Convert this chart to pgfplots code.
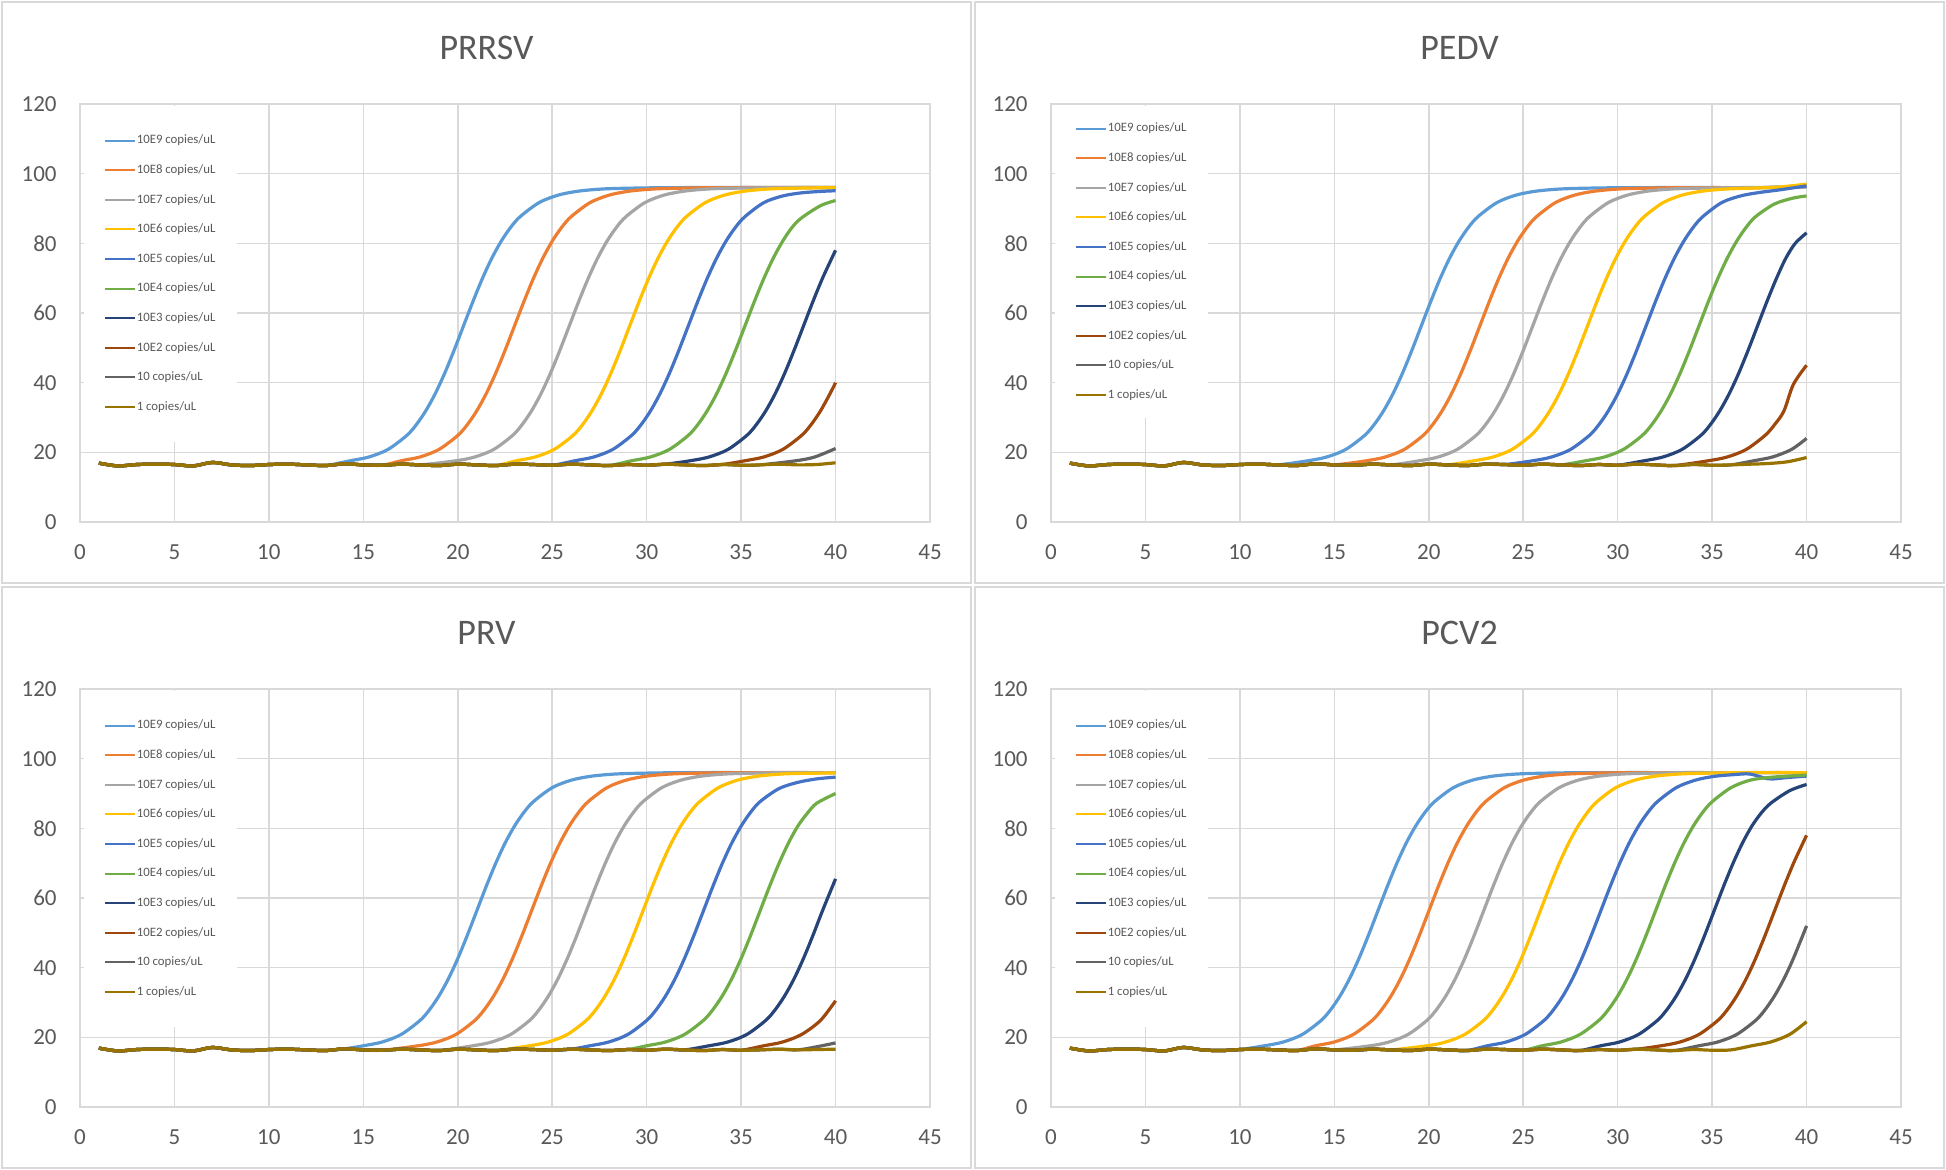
\documentclass[border=0pt]{standalone}
\usepackage{fontspec}
\setmainfont{Carlito}
\usepackage{pgfplots}
\pgfplotsset{compat=1.18}

\definecolor{c1}{HTML}{5B9BD5}
\definecolor{c2}{HTML}{ED7D31}
\definecolor{c3}{HTML}{A5A5A5}
\definecolor{c4}{HTML}{FFC000}
\definecolor{c5}{HTML}{4472C4}
\definecolor{c6}{HTML}{70AD47}
\definecolor{c7}{HTML}{264478}
\definecolor{c8}{HTML}{9E480E}
\definecolor{c9}{HTML}{636363}
\definecolor{c10}{HTML}{997300}
\definecolor{gridc}{HTML}{D9D9D9}
\definecolor{labc}{HTML}{595959}

\pgfplotscreateplotcyclelist{excel}{color=c1\\color=c2\\color=c3\\color=c4\\color=c5\\color=c6\\color=c7\\color=c8\\color=c9\\color=c10\\}

\pgfplotsset{
  panel/.style={
    scale only axis, width=425pt, height=209pt,
    xmin=0, xmax=45, ymin=0, ymax=120,
    xtick={0,5,...,45}, ytick={0,20,...,120},
    xmajorgrids, ymajorgrids,
    major grid style={draw=gridc, line width=0.8pt},
    axis line style={draw=gridc, line width=0.8pt},
    major tick length=0pt,
    /pgf/number format/assume math mode=true,
    tick label style={font=\fontsize{11.5}{13}\selectfont, text=labc},
    xticklabel style={anchor=north, inner sep=0pt, yshift=-11pt},
    yticklabel style={anchor=east, inner sep=0pt, xshift=-11.5pt},
    cycle list name=excel,
    every axis plot/.append style={line width=1.6pt, smooth},
    legend cell align=left,
    legend image code/.code={\draw[##1, line width=1pt] (0pt,0pt) -- (15pt,0pt);},
    legend style={at={(0.004,0.996)}, anchor=north west, fill=white, draw=none,
      inner xsep=10pt, inner ysep=14pt, row sep=8.2pt,
      font=\fontsize{6.4}{7.4}\selectfont, text=labc,
      nodes={inner sep=0.5pt, text height=4.4pt, text depth=1.2pt}},
  }
}

\begin{document}
\begin{tikzpicture}
\useasboundingbox (0,0) rectangle (973pt,-585pt);
% panel frames
\draw[gridc, line width=1.25pt] (1pt,-1pt) rectangle (485.5pt,-291.5pt);
\draw[gridc, line width=1.25pt] (487.5pt,-1pt) rectangle (972pt,-291.5pt);
\draw[gridc, line width=1.25pt] (1pt,-293.5pt) rectangle (485.5pt,-584pt);
\draw[gridc, line width=1.25pt] (487.5pt,-293.5pt) rectangle (972pt,-584pt);
% titles
\node[font=\fontsize{18}{20}\selectfont, text=labc] at (243.25pt,-24pt) {PRRSV};
\node[font=\fontsize{18}{20}\selectfont, text=labc] at (729.75pt,-24pt) {PEDV};
\node[font=\fontsize{18}{20}\selectfont, text=labc] at (243.25pt,-316.5pt) {PRV};
\node[font=\fontsize{18}{20}\selectfont, text=labc] at (729.75pt,-316.5pt) {PCV2};

%% PRRSV
\begin{axis}[panel, at={(40pt,-261pt)}, anchor=south west]
\addplot coordinates {(1,16.9)(2,16.1)(3,16.5)(4,16.6)(5,16.5)(6,16.1)(7,17.1)(8,16.4)(9,16.2)(10,16.5)(11,16.6)(12,16.4)(13,16.2)
 (14.3,17.58)(15.3,18.67)(16.3,20.82)(17.3,24.85)(17.8,27.91)(18.3,31.87)(18.8,36.78)(19.3,42.63)(19.8,49.23)(20.3,56.25)(20.8,63.27)(21.3,69.87)(21.8,75.72)(22.3,80.63)(22.8,84.59)(23.3,87.65)(24.3,91.68)(25.3,93.82)(26.3,94.92)(27.3,95.47)(28.3,95.74)(30.3,95.94)(32,96)(34,96)(36,96)(38,96)(40,96)};
\addplot coordinates {(1,16.9)(2,16.1)(3,16.5)(4,16.6)(5,16.5)(6,16.1)(7,17.1)(8,16.4)(9,16.2)(10,16.5)(11,16.6)(12,16.4)(13,16.2)(14,16.7)(15,16.4)(16,16.3)
 (17,17.58)(18,18.67)(19,20.82)(20,24.85)(20.5,27.91)(21,31.87)(21.5,36.78)(22,42.63)(22.5,49.23)(23,56.25)(23.5,63.27)(24,69.87)(24.5,75.72)(25,80.63)(25.5,84.59)(26,87.65)(27,91.68)(28,93.82)(29,94.92)(30,95.47)(31,95.74)(33,95.94)(35,96)(37,96)(40,96)};
\addplot coordinates {(1,16.9)(2,16.1)(3,16.5)(4,16.6)(5,16.5)(6,16.1)(7,17.1)(8,16.4)(9,16.2)(10,16.5)(11,16.6)(12,16.4)(13,16.2)(14,16.7)(15,16.4)(16,16.3)(17,16.6)(18,16.4)
 (19.9,17.58)(20.9,18.67)(21.9,20.82)(22.9,24.85)(23.4,27.91)(23.9,31.87)(24.4,36.78)(24.9,42.63)(25.4,49.23)(25.9,56.25)(26.4,63.27)(26.9,69.87)(27.4,75.72)(27.9,80.63)(28.4,84.59)(28.9,87.65)(29.9,91.68)(30.9,93.82)(31.9,94.92)(32.9,95.47)(33.9,95.74)(35.9,95.94)(38,96)(40,96)};
\addplot coordinates {(1,16.9)(2,16.1)(3,16.5)(4,16.6)(5,16.5)(6,16.1)(7,17.1)(8,16.4)(9,16.2)(10,16.5)(11,16.6)(12,16.4)(13,16.2)(14,16.7)(15,16.4)(16,16.3)(17,16.6)(18,16.4)(19,16.2)(20,16.6)(21,16.4)(22,16.2)
 (23.1,17.58)(24.1,18.67)(25.1,20.82)(26.1,24.85)(26.6,27.91)(27.1,31.87)(27.6,36.78)(28.1,42.63)(28.6,49.23)(29.1,56.25)(29.6,63.27)(30.1,69.87)(30.6,75.72)(31.1,80.63)(31.6,84.59)(32.1,87.65)(33.1,91.68)(34.1,93.82)(35.1,94.92)(36.1,95.47)(37.1,95.74)(39.1,95.94)(40,96)};
\addplot coordinates {(1,16.9)(2,16.1)(3,16.5)(4,16.6)(5,16.5)(6,16.1)(7,17.1)(8,16.4)(9,16.2)(10,16.5)(11,16.6)(12,16.4)(13,16.2)(14,16.7)(15,16.4)(16,16.3)(17,16.6)(18,16.4)(19,16.2)(20,16.6)(21,16.4)(22,16.2)(23,16.6)(24,16.5)(25,16.3)
 (26.2,17.58)(27.2,18.67)(28.2,20.82)(29.2,24.85)(29.7,27.91)(30.2,31.87)(30.7,36.78)(31.2,42.63)(31.7,49.23)(32.2,56.25)(32.7,63.27)(33.2,69.87)(33.7,75.72)(34.2,80.63)(34.7,84.59)(35.2,87.65)(36.2,91.68)(37.2,93.6)(38.2,94.5)(39.2,94.9)(40,95.1)};
\addplot coordinates {(1,16.9)(2,16.1)(3,16.5)(4,16.6)(5,16.5)(6,16.1)(7,17.1)(8,16.4)(9,16.2)(10,16.5)(11,16.6)(12,16.4)(13,16.2)(14,16.7)(15,16.4)(16,16.3)(17,16.6)(18,16.4)(19,16.2)(20,16.6)(21,16.4)(22,16.2)(23,16.6)(24,16.5)(25,16.3)(26,16.6)(27,16.4)(28,16.2)
 (29.2,17.58)(30.2,18.67)(31.2,20.82)(32.2,24.85)(32.7,27.91)(33.2,31.87)(33.7,36.78)(34.2,42.63)(34.7,49.23)(35.2,56.25)(35.7,63.27)(36.2,69.87)(36.7,75.72)(37.2,80.63)(37.7,84.59)(38.2,87.3)(39.2,90.8)(40,92.3)};
\addplot coordinates {(1,16.9)(2,16.1)(3,16.5)(4,16.6)(5,16.5)(6,16.1)(7,17.1)(8,16.4)(9,16.2)(10,16.5)(11,16.6)(12,16.4)(13,16.2)(14,16.7)(15,16.4)(16,16.3)(17,16.6)(18,16.4)(19,16.2)(20,16.6)(21,16.4)(22,16.2)(23,16.6)(24,16.5)(25,16.3)(26,16.6)(27,16.4)(28,16.2)(29,16.5)(30,16.3)(31,16.6)
 (32.3,17.58)(33.3,18.67)(34.3,20.82)(35.3,24.85)(35.8,27.91)(36.3,31.87)(36.8,36.78)(37.3,42.63)(37.8,49.23)(38.3,56.25)(38.8,63.27)(39.3,69.87)(39.8,75.72)(40,78)};
\addplot coordinates {(1,16.9)(2,16.1)(3,16.5)(4,16.6)(5,16.5)(6,16.1)(7,17.1)(8,16.4)(9,16.2)(10,16.5)(11,16.6)(12,16.4)(13,16.2)(14,16.7)(15,16.4)(16,16.3)(17,16.6)(18,16.4)(19,16.2)(20,16.6)(21,16.4)(22,16.2)(23,16.6)(24,16.5)(25,16.3)(26,16.6)(27,16.4)(28,16.2)(29,16.5)(30,16.3)(31,16.6)(32,16.4)(33,16.2)(34,16.5)
 (35.2,17.58)(36.2,18.67)(37.2,20.82)(38.2,24.85)(38.7,27.91)(39.2,31.87)(39.7,36.78)(40,40)};
\addplot coordinates {(1,16.9)(2,16.1)(3,16.5)(4,16.6)(5,16.5)(6,16.1)(7,17.1)(8,16.4)(9,16.2)(10,16.5)(11,16.6)(12,16.4)(13,16.2)(14,16.7)(15,16.4)(16,16.3)(17,16.6)(18,16.4)(19,16.2)(20,16.6)(21,16.4)(22,16.2)(23,16.6)(24,16.5)(25,16.3)(26,16.6)(27,16.4)(28,16.2)(29,16.5)(30,16.3)(31,16.6)(32,16.4)(33,16.2)(34,16.5)(35,16.3)(36,16.4)
 (37.9,17.58)(38.9,18.67)(40,21.1)};
\addplot coordinates {(1,16.9)(2,16.1)(3,16.5)(4,16.6)(5,16.5)(6,16.1)(7,17.1)(8,16.4)(9,16.2)(10,16.5)(11,16.6)(12,16.4)(13,16.2)(14,16.7)(15,16.4)(16,16.3)(17,16.6)(18,16.4)(19,16.2)(20,16.6)(21,16.4)(22,16.2)(23,16.6)(24,16.5)(25,16.3)(26,16.6)(27,16.4)(28,16.2)(29,16.5)(30,16.3)(31,16.6)(32,16.4)(33,16.2)(34,16.5)(35,16.3)(36,16.4)(37,16.6)(38,16.4)(39,16.5)(40,17.0)};
\legend{10E9 copies/uL,10E8 copies/uL,10E7 copies/uL,10E6 copies/uL,10E5 copies/uL,10E4 copies/uL,10E3 copies/uL,10E2 copies/uL,10 copies/uL,1 copies/uL}
\end{axis}

%% PEDV
\begin{axis}[panel, at={(525.5pt,-261pt)}, anchor=south west, legend style={inner ysep=8pt}]
\addplot coordinates {(1,16.9)(2,16.1)(3,16.5)(4,16.6)(5,16.5)(6,16.1)(7,17.1)(8,16.4)(9,16.2)(10,16.5)(11,16.6)(12,16.4)
 (13.6,17.58)(14.6,18.67)(15.6,20.82)(16.6,24.85)(17.1,27.91)(17.6,31.87)(18.1,36.78)(18.6,42.63)(19.1,49.23)(19.6,56.25)(20.1,63.27)(20.6,69.87)(21.1,75.72)(21.6,80.63)(22.1,84.59)(22.6,87.65)(23.6,91.68)(24.6,93.82)(25.6,94.92)(26.6,95.47)(27.6,95.74)(29.6,95.94)(32,96)(35,96)(38,96)(40,96.2)};
\addplot coordinates {(1,16.9)(2,16.1)(3,16.5)(4,16.6)(5,16.5)(6,16.1)(7,17.1)(8,16.4)(9,16.2)(10,16.5)(11,16.6)(12,16.4)(13,16.2)(14,16.7)(15,16.4)
 (16.7,17.58)(17.7,18.67)(18.7,20.82)(19.7,24.85)(20.2,27.91)(20.7,31.87)(21.2,36.78)(21.7,42.63)(22.2,49.23)(22.7,56.25)(23.2,63.27)(23.7,69.87)(24.2,75.72)(24.7,80.63)(25.2,84.59)(25.7,87.65)(26.7,91.68)(27.7,93.82)(28.7,94.92)(29.7,95.47)(30.7,95.74)(32.7,95.94)(35,96)(38,96)(40,96.3)};
\addplot coordinates {(1,16.9)(2,16.1)(3,16.5)(4,16.6)(5,16.5)(6,16.1)(7,17.1)(8,16.4)(9,16.2)(10,16.5)(11,16.6)(12,16.4)(13,16.2)(14,16.7)(15,16.4)(16,16.3)(17,16.6)(18,16.4)
 (19.5,17.58)(20.5,18.67)(21.5,20.82)(22.5,24.85)(23,27.91)(23.5,31.87)(24,36.78)(24.5,42.63)(25,49.23)(25.5,56.25)(26,63.27)(26.5,69.87)(27,75.72)(27.5,80.63)(28,84.59)(28.5,87.65)(29.5,91.68)(30.5,93.82)(31.5,94.92)(32.5,95.47)(33.5,95.74)(35.5,95.94)(38,96.1)(40,96.5)};
\addplot coordinates {(1,16.9)(2,16.1)(3,16.5)(4,16.6)(5,16.5)(6,16.1)(7,17.1)(8,16.4)(9,16.2)(10,16.5)(11,16.6)(12,16.4)(13,16.2)(14,16.7)(15,16.4)(16,16.3)(17,16.6)(18,16.4)(19,16.2)(20,16.6)(21,16.4)
 (22.4,17.58)(23.4,18.67)(24.4,20.82)(25.4,24.85)(25.9,27.91)(26.4,31.87)(26.9,36.78)(27.4,42.63)(27.9,49.23)(28.4,56.25)(28.9,63.27)(29.4,69.87)(29.9,75.72)(30.4,80.63)(30.9,84.59)(31.4,87.65)(32.4,91.68)(33.4,93.82)(34.4,94.92)(35.4,95.47)(36.4,95.74)(38.4,96.1)(40,97)};
\addplot coordinates {(1,16.9)(2,16.1)(3,16.5)(4,16.6)(5,16.5)(6,16.1)(7,17.1)(8,16.4)(9,16.2)(10,16.5)(11,16.6)(12,16.4)(13,16.2)(14,16.7)(15,16.4)(16,16.3)(17,16.6)(18,16.4)(19,16.2)(20,16.6)(21,16.4)(22,16.2)(23,16.6)(24,16.5)
 (25.5,17.58)(26.5,18.67)(27.5,20.82)(28.5,24.85)(29,27.91)(29.5,31.87)(30,36.78)(30.5,42.63)(31,49.23)(31.5,56.25)(32,63.27)(32.5,69.87)(33,75.72)(33.5,80.63)(34,84.59)(34.5,87.65)(35.5,91.68)(36.5,93.6)(37.5,94.6)(38.5,95.3)(40,96.5)};
\addplot coordinates {(1,16.9)(2,16.1)(3,16.5)(4,16.6)(5,16.5)(6,16.1)(7,17.1)(8,16.4)(9,16.2)(10,16.5)(11,16.6)(12,16.4)(13,16.2)(14,16.7)(15,16.4)(16,16.3)(17,16.6)(18,16.4)(19,16.2)(20,16.6)(21,16.4)(22,16.2)(23,16.6)(24,16.5)(25,16.3)(26,16.6)(27,16.4)
 (28.3,17.58)(29.3,18.67)(30.3,20.82)(31.3,24.85)(31.8,27.91)(32.3,31.87)(32.8,36.78)(33.3,42.63)(33.8,49.23)(34.3,56.25)(34.8,63.27)(35.3,69.87)(35.8,75.72)(36.3,80.63)(36.8,84.59)(37.3,87.65)(38.3,91.3)(39.3,93.0)(40,93.6)};
\addplot coordinates {(1,16.9)(2,16.1)(3,16.5)(4,16.6)(5,16.5)(6,16.1)(7,17.1)(8,16.4)(9,16.2)(10,16.5)(11,16.6)(12,16.4)(13,16.2)(14,16.7)(15,16.4)(16,16.3)(17,16.6)(18,16.4)(19,16.2)(20,16.6)(21,16.4)(22,16.2)(23,16.6)(24,16.5)(25,16.3)(26,16.6)(27,16.4)(28,16.2)(29,16.5)(30,16.3)
 (31.4,17.58)(32.4,18.67)(33.4,20.82)(34.4,24.85)(34.9,27.91)(35.4,31.87)(35.9,36.78)(36.4,42.63)(36.9,49.23)(37.4,56.25)(37.9,63.27)(38.4,69.87)(38.9,75.72)(39.4,80.0)(40,83)};
\addplot coordinates {(1,16.9)(2,16.1)(3,16.5)(4,16.6)(5,16.5)(6,16.1)(7,17.1)(8,16.4)(9,16.2)(10,16.5)(11,16.6)(12,16.4)(13,16.2)(14,16.7)(15,16.4)(16,16.3)(17,16.6)(18,16.4)(19,16.2)(20,16.6)(21,16.4)(22,16.2)(23,16.6)(24,16.5)(25,16.3)(26,16.6)(27,16.4)(28,16.2)(29,16.5)(30,16.3)(31,16.6)(32,16.4)(33,16.2)
 (34.8,17.58)(35.8,18.67)(36.8,20.82)(37.8,24.85)(38.3,27.91)(38.8,31.87)(39.3,39.5)(40,45)};
\addplot coordinates {(1,16.9)(2,16.1)(3,16.5)(4,16.6)(5,16.5)(6,16.1)(7,17.1)(8,16.4)(9,16.2)(10,16.5)(11,16.6)(12,16.4)(13,16.2)(14,16.7)(15,16.4)(16,16.3)(17,16.6)(18,16.4)(19,16.2)(20,16.6)(21,16.4)(22,16.2)(23,16.6)(24,16.5)(25,16.3)(26,16.6)(27,16.4)(28,16.2)(29,16.5)(30,16.3)(31,16.6)(32,16.4)(33,16.2)(34,16.5)(35,16.3)(36,16.4)
 (37.2,17.58)(38.2,18.67)(39.2,20.82)(40,24)};
\addplot coordinates {(1,16.9)(2,16.1)(3,16.5)(4,16.6)(5,16.5)(6,16.1)(7,17.1)(8,16.4)(9,16.2)(10,16.5)(11,16.6)(12,16.4)(13,16.2)(14,16.7)(15,16.4)(16,16.3)(17,16.6)(18,16.4)(19,16.2)(20,16.6)(21,16.4)(22,16.2)(23,16.6)(24,16.5)(25,16.3)(26,16.6)(27,16.4)(28,16.2)(29,16.5)(30,16.3)(31,16.6)(32,16.4)(33,16.2)(34,16.5)(35,16.3)(36,16.4)(37,16.6)
 (38,16.8)(39,17.3)(40,18.5)};
\legend{10E9 copies/uL,10E8 copies/uL,10E7 copies/uL,10E6 copies/uL,10E5 copies/uL,10E4 copies/uL,10E3 copies/uL,10E2 copies/uL,10 copies/uL,1 copies/uL}
\end{axis}

%% PRV
\begin{axis}[panel, at={(40pt,-553.5pt)}, anchor=south west]
\addplot coordinates {(1,16.9)(2,16.1)(3,16.5)(4,16.6)(5,16.5)(6,16.1)(7,17.1)(8,16.4)(9,16.2)(10,16.5)(11,16.6)(12,16.4)(13,16.2)(14,16.7)
 (15,17.58)(16,18.67)(17,20.82)(18,24.85)(18.5,27.91)(19,31.87)(19.5,36.78)(20,42.63)(20.5,49.23)(21,56.25)(21.5,63.27)(22,69.87)(22.5,75.72)(23,80.63)(23.5,84.59)(24,87.65)(25,91.68)(26,93.82)(27,94.92)(28,95.47)(29,95.74)(31,95.94)(33,96)(36,96)(40,96)};
\addplot coordinates {(1,16.9)(2,16.1)(3,16.5)(4,16.6)(5,16.5)(6,16.1)(7,17.1)(8,16.4)(9,16.2)(10,16.5)(11,16.6)(12,16.4)(13,16.2)(14,16.7)(15,16.4)(16,16.3)
 (17.9,17.58)(18.9,18.67)(19.9,20.82)(20.9,24.85)(21.4,27.91)(21.9,31.87)(22.4,36.78)(22.9,42.63)(23.4,49.23)(23.9,56.25)(24.4,63.27)(24.9,69.87)(25.4,75.72)(25.9,80.63)(26.4,84.59)(26.9,87.65)(27.9,91.68)(28.9,93.82)(29.9,94.92)(30.9,95.47)(31.9,95.74)(33.9,95.94)(36,96)(40,96)};
\addplot coordinates {(1,16.9)(2,16.1)(3,16.5)(4,16.6)(5,16.5)(6,16.1)(7,17.1)(8,16.4)(9,16.2)(10,16.5)(11,16.6)(12,16.4)(13,16.2)(14,16.7)(15,16.4)(16,16.3)(17,16.6)(18,16.4)(19,16.2)
 (20.8,17.58)(21.8,18.67)(22.8,20.82)(23.8,24.85)(24.3,27.91)(24.8,31.87)(25.3,36.78)(25.8,42.63)(26.3,49.23)(26.8,56.25)(27.3,63.27)(27.8,69.87)(28.3,75.72)(28.8,80.63)(29.3,84.59)(29.8,87.65)(30.8,91.68)(31.8,93.82)(32.8,94.92)(33.8,95.47)(34.8,95.74)(36.8,95.94)(40,96)};
\addplot coordinates {(1,16.9)(2,16.1)(3,16.5)(4,16.6)(5,16.5)(6,16.1)(7,17.1)(8,16.4)(9,16.2)(10,16.5)(11,16.6)(12,16.4)(13,16.2)(14,16.7)(15,16.4)(16,16.3)(17,16.6)(18,16.4)(19,16.2)(20,16.6)(21,16.4)(22,16.2)
 (23.8,17.58)(24.8,18.67)(25.8,20.82)(26.8,24.85)(27.3,27.91)(27.8,31.87)(28.3,36.78)(28.8,42.63)(29.3,49.23)(29.8,56.25)(30.3,63.27)(30.8,69.87)(31.3,75.72)(31.8,80.63)(32.3,84.59)(32.8,87.65)(33.8,91.68)(34.8,93.82)(35.8,94.92)(36.8,95.47)(37.8,95.74)(40,95.9)};
\addplot coordinates {(1,16.9)(2,16.1)(3,16.5)(4,16.6)(5,16.5)(6,16.1)(7,17.1)(8,16.4)(9,16.2)(10,16.5)(11,16.6)(12,16.4)(13,16.2)(14,16.7)(15,16.4)(16,16.3)(17,16.6)(18,16.4)(19,16.2)(20,16.6)(21,16.4)(22,16.2)(23,16.6)(24,16.5)(25,16.3)(26,16.6)
 (27,17.58)(28,18.67)(29,20.82)(30,24.85)(30.5,27.91)(31,31.87)(31.5,36.78)(32,42.63)(32.5,49.23)(33,56.25)(33.5,63.27)(34,69.87)(34.5,75.72)(35,80.63)(35.5,84.59)(36,87.65)(37,91.4)(38,93.2)(39,94.2)(40,94.7)};
\addplot coordinates {(1,16.9)(2,16.1)(3,16.5)(4,16.6)(5,16.5)(6,16.1)(7,17.1)(8,16.4)(9,16.2)(10,16.5)(11,16.6)(12,16.4)(13,16.2)(14,16.7)(15,16.4)(16,16.3)(17,16.6)(18,16.4)(19,16.2)(20,16.6)(21,16.4)(22,16.2)(23,16.6)(24,16.5)(25,16.3)(26,16.6)(27,16.4)(28,16.2)(29,16.5)
 (30,17.58)(31,18.67)(32,20.82)(33,24.85)(33.5,27.91)(34,31.87)(34.5,36.78)(35,42.63)(35.5,49.23)(36,56.25)(36.5,63.27)(37,69.87)(37.5,75.72)(38,80.63)(38.5,84.3)(39,87.2)(40,90)};
\addplot coordinates {(1,16.9)(2,16.1)(3,16.5)(4,16.6)(5,16.5)(6,16.1)(7,17.1)(8,16.4)(9,16.2)(10,16.5)(11,16.6)(12,16.4)(13,16.2)(14,16.7)(15,16.4)(16,16.3)(17,16.6)(18,16.4)(19,16.2)(20,16.6)(21,16.4)(22,16.2)(23,16.6)(24,16.5)(25,16.3)(26,16.6)(27,16.4)(28,16.2)(29,16.5)(30,16.3)(31,16.6)(32,16.4)
 (33.3,17.58)(34.3,18.67)(35.3,20.82)(36.3,24.85)(36.8,27.91)(37.3,31.87)(37.8,36.78)(38.3,42.63)(38.8,49.23)(39.3,56.25)(40,65.5)};
\addplot coordinates {(1,16.9)(2,16.1)(3,16.5)(4,16.6)(5,16.5)(6,16.1)(7,17.1)(8,16.4)(9,16.2)(10,16.5)(11,16.6)(12,16.4)(13,16.2)(14,16.7)(15,16.4)(16,16.3)(17,16.6)(18,16.4)(19,16.2)(20,16.6)(21,16.4)(22,16.2)(23,16.6)(24,16.5)(25,16.3)(26,16.6)(27,16.4)(28,16.2)(29,16.5)(30,16.3)(31,16.6)(32,16.4)(33,16.2)(34,16.5)(35,16.3)
 (36.2,17.58)(37.2,18.67)(38.2,20.82)(39.2,24.85)(40,30.5)};
\addplot coordinates {(1,16.9)(2,16.1)(3,16.5)(4,16.6)(5,16.5)(6,16.1)(7,17.1)(8,16.4)(9,16.2)(10,16.5)(11,16.6)(12,16.4)(13,16.2)(14,16.7)(15,16.4)(16,16.3)(17,16.6)(18,16.4)(19,16.2)(20,16.6)(21,16.4)(22,16.2)(23,16.6)(24,16.5)(25,16.3)(26,16.6)(27,16.4)(28,16.2)(29,16.5)(30,16.3)(31,16.6)(32,16.4)(33,16.2)(34,16.5)(35,16.3)(36,16.4)(37,16.6)(38,16.4)
 (39.1,17.4)(40,18.4)};
\addplot coordinates {(1,16.9)(2,16.1)(3,16.5)(4,16.6)(5,16.5)(6,16.1)(7,17.1)(8,16.4)(9,16.2)(10,16.5)(11,16.6)(12,16.4)(13,16.2)(14,16.7)(15,16.4)(16,16.3)(17,16.6)(18,16.4)(19,16.2)(20,16.6)(21,16.4)(22,16.2)(23,16.6)(24,16.5)(25,16.3)(26,16.6)(27,16.4)(28,16.2)(29,16.5)(30,16.3)(31,16.6)(32,16.4)(33,16.2)(34,16.5)(35,16.3)(36,16.4)(37,16.6)(38,16.4)(39,16.5)(40,16.6)};
\legend{10E9 copies/uL,10E8 copies/uL,10E7 copies/uL,10E6 copies/uL,10E5 copies/uL,10E4 copies/uL,10E3 copies/uL,10E2 copies/uL,10 copies/uL,1 copies/uL}
\end{axis}

%% PCV2
\begin{axis}[panel, at={(525.5pt,-553.5pt)}, anchor=south west]
\addplot coordinates {(1,16.9)(2,16.1)(3,16.5)(4,16.6)(5,16.5)(6,16.1)(7,17.1)(8,16.4)(9,16.2)(10,16.5)
 (11.3,17.58)(12.3,18.67)(13.3,20.82)(14.3,24.85)(14.8,27.91)(15.3,31.87)(15.8,36.78)(16.3,42.63)(16.8,49.23)(17.3,56.25)(17.8,63.27)(18.3,69.87)(18.8,75.72)(19.3,80.63)(19.8,84.59)(20.3,87.65)(21.3,91.68)(22.3,93.82)(23.3,94.92)(24.3,95.47)(25.3,95.74)(27.3,95.94)(30,96)(33,96)(36,96)(40,96)};
\addplot coordinates {(1,16.9)(2,16.1)(3,16.5)(4,16.6)(5,16.5)(6,16.1)(7,17.1)(8,16.4)(9,16.2)(10,16.5)(11,16.6)(12,16.4)(13,16.2)
 (14,17.58)(15,18.67)(16,20.82)(17,24.85)(17.5,27.91)(18,31.87)(18.5,36.78)(19,42.63)(19.5,49.23)(20,56.25)(20.5,63.27)(21,69.87)(21.5,75.72)(22,80.63)(22.5,84.59)(23,87.65)(24,91.68)(25,93.82)(26,94.92)(27,95.47)(28,95.74)(30,95.94)(33,96)(36,96)(40,96)};
\addplot coordinates {(1,16.9)(2,16.1)(3,16.5)(4,16.6)(5,16.5)(6,16.1)(7,17.1)(8,16.4)(9,16.2)(10,16.5)(11,16.6)(12,16.4)(13,16.2)(14,16.7)(15,16.4)
 (16.9,17.58)(17.9,18.67)(18.9,20.82)(19.9,24.85)(20.4,27.91)(20.9,31.87)(21.4,36.78)(21.9,42.63)(22.4,49.23)(22.9,56.25)(23.4,63.27)(23.9,69.87)(24.4,75.72)(24.9,80.63)(25.4,84.59)(25.9,87.65)(26.9,91.68)(27.9,93.82)(28.9,94.92)(29.9,95.47)(30.9,95.74)(32.9,95.94)(36,96)(40,96)};
\addplot coordinates {(1,16.9)(2,16.1)(3,16.5)(4,16.6)(5,16.5)(6,16.1)(7,17.1)(8,16.4)(9,16.2)(10,16.5)(11,16.6)(12,16.4)(13,16.2)(14,16.7)(15,16.4)(16,16.3)(17,16.6)(18,16.4)
 (19.9,17.58)(20.9,18.67)(21.9,20.82)(22.9,24.85)(23.4,27.91)(23.9,31.87)(24.4,36.78)(24.9,42.63)(25.4,49.23)(25.9,56.25)(26.4,63.27)(26.9,69.87)(27.4,75.72)(27.9,80.63)(28.4,84.59)(28.9,87.65)(29.9,91.68)(30.9,93.82)(31.9,94.92)(32.9,95.47)(33.9,95.74)(35.9,95.94)(38,96)(40,96)};
\addplot coordinates {(1,16.9)(2,16.1)(3,16.5)(4,16.6)(5,16.5)(6,16.1)(7,17.1)(8,16.4)(9,16.2)(10,16.5)(11,16.6)(12,16.4)(13,16.2)(14,16.7)(15,16.4)(16,16.3)(17,16.6)(18,16.4)(19,16.2)(20,16.6)(21,16.4)(22,16.2)
 (23.1,17.58)(24.1,18.67)(25.1,20.82)(26.1,24.85)(26.6,27.91)(27.1,31.87)(27.6,36.78)(28.1,42.63)(28.6,49.23)(29.1,56.25)(29.6,63.27)(30.1,69.87)(30.6,75.72)(31.1,80.63)(31.6,84.59)(32.1,87.65)(33.1,91.68)(34.1,93.82)(35.1,94.92)(36.1,95.4)(37,95.6)(38,94.2)(39,94.6)(40,95.0)};
\addplot coordinates {(1,16.9)(2,16.1)(3,16.5)(4,16.6)(5,16.5)(6,16.1)(7,17.1)(8,16.4)(9,16.2)(10,16.5)(11,16.6)(12,16.4)(13,16.2)(14,16.7)(15,16.4)(16,16.3)(17,16.6)(18,16.4)(19,16.2)(20,16.6)(21,16.4)(22,16.2)(23,16.6)(24,16.5)(25,16.3)
 (26,17.58)(27,18.67)(28,20.82)(29,24.85)(29.5,27.91)(30,31.87)(30.5,36.78)(31,42.63)(31.5,49.23)(32,56.25)(32.5,63.27)(33,69.87)(33.5,75.72)(34,80.63)(34.5,84.59)(35,87.65)(36,91.68)(37,93.82)(38,94.6)(39,95.0)(40,95.3)};
\addplot coordinates {(1,16.9)(2,16.1)(3,16.5)(4,16.6)(5,16.5)(6,16.1)(7,17.1)(8,16.4)(9,16.2)(10,16.5)(11,16.6)(12,16.4)(13,16.2)(14,16.7)(15,16.4)(16,16.3)(17,16.6)(18,16.4)(19,16.2)(20,16.6)(21,16.4)(22,16.2)(23,16.6)(24,16.5)(25,16.3)(26,16.6)(27,16.4)(28,16.2)
 (29.1,17.58)(30.1,18.67)(31.1,20.82)(32.1,24.85)(32.6,27.91)(33.1,31.87)(33.6,36.78)(34.1,42.63)(34.6,49.23)(35.1,56.25)(35.6,63.27)(36.1,69.87)(36.6,75.72)(37.1,80.63)(37.6,84.4)(38.1,87.2)(39.1,90.8)(40,92.6)};
\addplot coordinates {(1,16.9)(2,16.1)(3,16.5)(4,16.6)(5,16.5)(6,16.1)(7,17.1)(8,16.4)(9,16.2)(10,16.5)(11,16.6)(12,16.4)(13,16.2)(14,16.7)(15,16.4)(16,16.3)(17,16.6)(18,16.4)(19,16.2)(20,16.6)(21,16.4)(22,16.2)(23,16.6)(24,16.5)(25,16.3)(26,16.6)(27,16.4)(28,16.2)(29,16.5)(30,16.3)(31,16.6)
 (32.3,17.58)(33.3,18.67)(34.3,20.82)(35.3,24.85)(35.8,27.91)(36.3,31.87)(36.8,36.78)(37.3,42.63)(37.8,49.23)(38.3,56.25)(38.8,63.27)(39.3,69.87)(39.8,75.72)(40,78)};
\addplot coordinates {(1,16.9)(2,16.1)(3,16.5)(4,16.6)(5,16.5)(6,16.1)(7,17.1)(8,16.4)(9,16.2)(10,16.5)(11,16.6)(12,16.4)(13,16.2)(14,16.7)(15,16.4)(16,16.3)(17,16.6)(18,16.4)(19,16.2)(20,16.6)(21,16.4)(22,16.2)(23,16.6)(24,16.5)(25,16.3)(26,16.6)(27,16.4)(28,16.2)(29,16.5)(30,16.3)(31,16.6)(32,16.4)(33,16.2)
 (34.3,17.58)(35.3,18.67)(36.3,20.82)(37.3,24.85)(37.8,27.91)(38.3,31.87)(38.8,36.78)(39.3,42.63)(40,52)};
\addplot coordinates {(1,16.9)(2,16.1)(3,16.5)(4,16.6)(5,16.5)(6,16.1)(7,17.1)(8,16.4)(9,16.2)(10,16.5)(11,16.6)(12,16.4)(13,16.2)(14,16.7)(15,16.4)(16,16.3)(17,16.6)(18,16.4)(19,16.2)(20,16.6)(21,16.4)(22,16.2)(23,16.6)(24,16.5)(25,16.3)(26,16.6)(27,16.4)(28,16.2)(29,16.5)(30,16.3)(31,16.6)(32,16.4)(33,16.2)(34,16.5)(35,16.3)(36,16.4)
 (37.1,17.58)(38.1,18.67)(39.1,20.82)(40,24.5)};
\legend{10E9 copies/uL,10E8 copies/uL,10E7 copies/uL,10E6 copies/uL,10E5 copies/uL,10E4 copies/uL,10E3 copies/uL,10E2 copies/uL,10 copies/uL,1 copies/uL}
\end{axis}
\end{tikzpicture}
\end{document}
